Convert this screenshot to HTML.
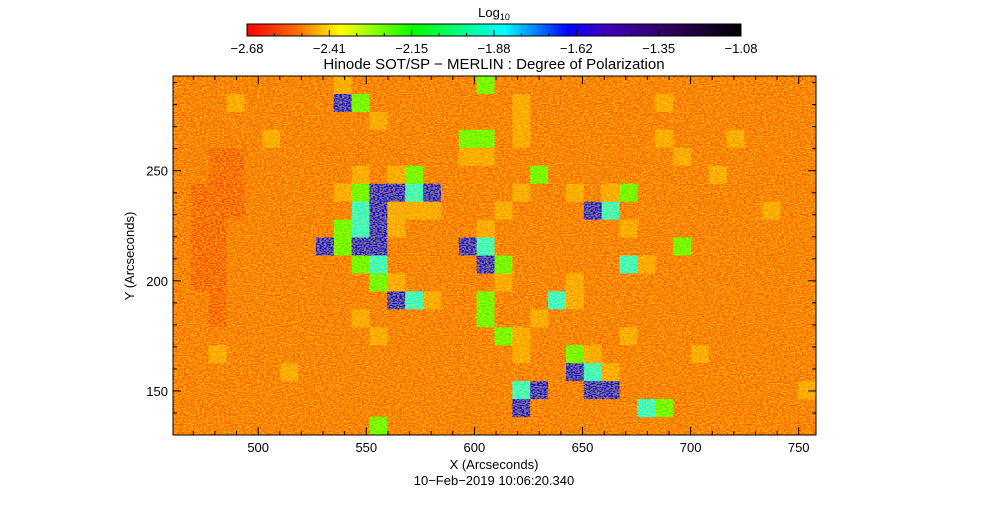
<!DOCTYPE html>
<html><head><meta charset="utf-8"><style>
html,body{margin:0;padding:0;background:#fff;}
svg{display:block;font-family:"Liberation Sans",sans-serif;}
</style></head><body>
<svg id="chart" width="988" height="512" viewBox="0 0 988 512">
<defs>
<linearGradient id="cbar" x1="0" x2="1" y1="0" y2="0">
<stop offset="0" stop-color="#ff0000"/><stop offset="0.1" stop-color="#ff6a00"/>
<stop offset="0.19" stop-color="#ffff00"/><stop offset="0.34" stop-color="#00ff00"/>
<stop offset="0.52" stop-color="#00ffff"/><stop offset="0.65" stop-color="#0000ff"/>
<stop offset="0.72" stop-color="#4000c0"/><stop offset="0.85" stop-color="#300060"/>
<stop offset="1" stop-color="#000000"/></linearGradient>
<filter id="speck" x="0" y="0" width="100%" height="100%">
<feTurbulence type="fractalNoise" baseFrequency="0.45 0.9" numOctaves="1" seed="3"/>
<feColorMatrix type="matrix" values="0 0 0 0 1  0 0 0 0 0.85  0 0 0 0 0  0 0 0 -9 5.2"/>
</filter>
<clipPath id="plotclip"><rect x="173" y="76" width="643" height="359"/></clipPath>
</defs>
<text x="494" y="17" text-anchor="middle" font-size="13">Log<tspan font-size="9" dy="3">10</tspan></text>
<rect x="247" y="24" width="494" height="12" fill="url(#cbar)" stroke="#000" stroke-width="1"/>
<g id="cbticks"></g>
<text x="494" y="69" text-anchor="middle" font-size="15">Hinode SOT/SP − MERLIN : Degree of Polarization</text>
<g id="heat" clip-path="url(#plotclip)"></g>
<rect x="173" y="76" width="643" height="359" filter="url(#speck)" opacity="0.5"/>
<rect x="173" y="76" width="643" height="359" fill="none" stroke="#000" stroke-width="1"/>
<g id="axes"></g>
<text x="494" y="469" text-anchor="middle" font-size="13">X (Arcseconds)</text>
<text x="134" y="256" text-anchor="middle" font-size="13" transform="rotate(-90 134 256)">Y (Arcseconds)</text>
<text x="494" y="485" text-anchor="middle" font-size="13">10−Feb−2019 10:06:20.340</text>
</svg>
<script>
const cbLabels = ["−2.68","−2.41","−2.15","−1.88","−1.62","−1.35","−1.08"];
const xTicks = [500,550,600,650,700,750];
const yTicks = [150,200,250];
const xDomain = [460.6,758];
const yDomain = [130,293];
const vDomain = [-2.68,-1.08];
const levelCodes = ["r",".","y","g","c","b"];
const levelValues = [-2.58,-2.54,-2.48,-2.2,-1.85,-1.62];
const gridRows = [
".........y.......g..................",
"...y.....bg........y.......y........",
"...........y.......y................",
".....y..........gg.y.......y...y....",
"..rr............yy..........y.......",
"..rr......y.yg......g.........y.....",
".rrr.....ygbbcb....y..y.yg..........",
".rrr......cbyyy...y....bc........y..",
".rr......gcby....y.......y..........",
".rr.....bgbb....bc..........g.......",
".rr.......gc.....bg......cy.........",
".rr........gy.....y...y.............",
"..r.........bcy..g...cy.............",
"..r.......y......g..y...............",
"...........y......gy.....y..........",
"..y................y..gy.....y......",
"......y...............bcy...........",
"...................cb..bb..........y",
"...................b......cg........",
"...........g........................"
];
const P={l:173,r:816,t:76,b:435};
const sx=v=>P.l+(v-xDomain[0])/(xDomain[1]-xDomain[0])*(P.r-P.l);
const sy=v=>P.b-(v-yDomain[0])/(yDomain[1]-yDomain[0])*(P.b-P.t);
const stops=[[0,[255,0,0]],[0.1,[255,106,0]],[0.19,[255,255,0]],[0.34,[0,255,0]],[0.52,[0,255,255]],[0.65,[0,0,255]],[0.72,[64,0,192]],[0.85,[48,0,96]],[1,[0,0,0]]];
function cmap(v){let t=(v-vDomain[0])/(vDomain[1]-vDomain[0]);t=Math.max(0,Math.min(1,t));
for(let i=1;i<stops.length;i++){if(t<=stops[i][0]){const a=stops[i-1],b=stops[i],f=(t-a[0])/(b[0]-a[0]);
return 'rgb('+a[1].map((c,k)=>Math.round(c+(b[1][k]-c)*f)).join(',')+')';}}return 'rgb(0,0,0)';}
const NS="http://www.w3.org/2000/svg";
function mk(tag,attrs,parent){const e=document.createElementNS(NS,tag);for(const k in attrs)e.setAttribute(k,attrs[k]);parent.appendChild(e);return e;}
const heat=document.getElementById('heat');
const nR=gridRows.length,nC=36;
const cw=(P.r-P.l)/nC,ch=(P.b-P.t)/nR;
gridRows.forEach((row,r)=>{for(let c=0;c<nC;c++){const code=row[c]||".";const v=levelValues[Math.max(0,levelCodes.indexOf(code))];
const e=mk('rect',{x:(P.l+c*cw).toFixed(2),y:(P.t+r*ch).toFixed(2),width:(cw+0.6).toFixed(2),height:(ch+0.6).toFixed(2),fill:cmap(v)},heat);

}});
const ax=document.getElementById('axes');
for(let v=470;v<=750;v+=10){const x=sx(v),maj=v%50===0,len=maj?8:4;
mk('line',{x1:x,x2:x,y1:P.b,y2:P.b-len,stroke:'#000'},ax);mk('line',{x1:x,x2:x,y1:P.t,y2:P.t+len,stroke:'#000'},ax);}
xTicks.forEach(v=>{const e=mk('text',{x:sx(v),y:P.b+17,'text-anchor':'middle','font-size':13},ax);e.textContent=v;

});
for(let v=140;v<=290;v+=10){const y=sy(v),maj=v%50===0,len=maj?8:4;
mk('line',{x1:P.l,x2:P.l+len,y1:y,y2:y,stroke:'#000'},ax);mk('line',{x1:P.r,x2:P.r-len,y1:y,y2:y,stroke:'#000'},ax);}
yTicks.forEach(v=>{const e=mk('text',{x:P.l-5,y:sy(v)+5,'text-anchor':'end','font-size':13},ax);e.textContent=v;

});
const cb=document.getElementById('cbticks');
for(let i=0;i<=18;i++){const x=247+494*i/18;mk('line',{x1:x,x2:x,y1:36,y2:i%3===0?30:33,stroke:'#000'},cb);}
cbLabels.forEach((t,i)=>{const e=mk('text',{x:247+494*i/6,y:53,'text-anchor':'middle','font-size':13},cb);e.textContent=t;

});
</script>
</body></html>
